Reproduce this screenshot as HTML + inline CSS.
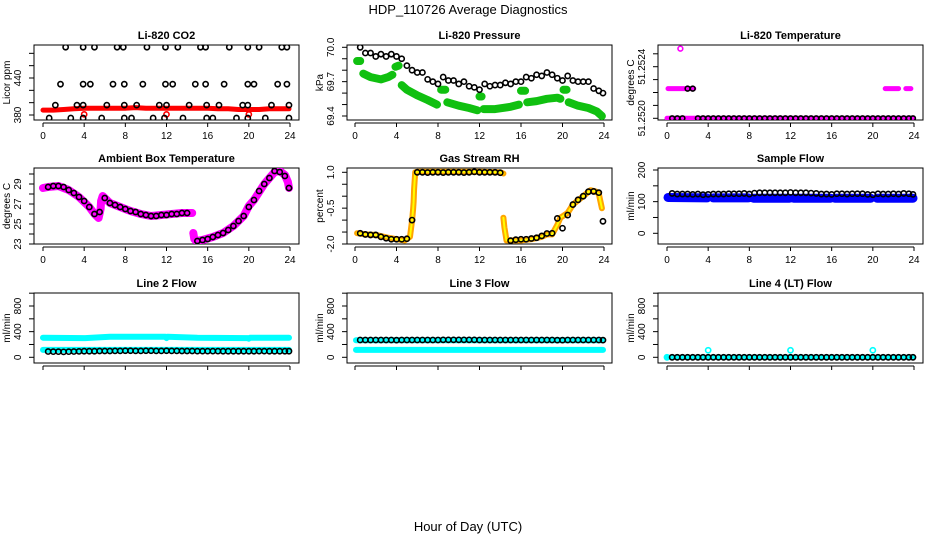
<!DOCTYPE html>
<html><head><meta charset="utf-8"><style>
html,body{margin:0;padding:0;background:#fff;}
svg{display:block;font-family:"Liberation Sans",Arial,sans-serif;}
</style></head><body>
<svg id="chart" width="936" height="540" viewBox="0 0 936 540" xmlns="http://www.w3.org/2000/svg">
<text x="468" y="14" text-anchor="middle" font-size="13">HDP_110726  Average Diagnostics</text>
<text x="468" y="531" text-anchor="middle" font-size="13">Hour of Day (UTC)</text>
</svg>
<script>
// ---- shared data ----
const T = [0.5,1,1.5,2,2.5,3,3.5,4,4.5,5,5.5,6,6.5,7,7.5,8,8.5,9,9.5,10,10.5,11,11.5,12,12.5,13,13.5,14,14.5,15,15.5,16,16.5,17,17.5,18,18.5,19,19.5,20,20.5,21,21.5,22,22.5,23,23.5,23.9];
const xTicks = [0,4,8,12,16,20,24];
// CO2
const co2Times = [2.2,3.9,5.0,7.2,7.8,10.1,11.9,13.1,15.3,15.8,18.1,19.9,21.0,23.2,23.7, 1.7,3.9,4.6,6.8,7.9,9.7,11.9,12.6,14.8,15.8,17.6,19.9,20.5,22.8,23.7, 1.2,3.3,3.9,6.2,7.9,9.1,11.3,12.0,14.2,15.9,17.1,19.4,19.9,22.2,23.9, 0.6,2.7,3.9,5.7,7.9,8.6,10.7,11.8,13.6,15.9,16.5,18.8,19.9,21.6,23.9];
const co2Vals = [490,490,490,490,490,490,490,490,490,490,490,490,490,490,490, 430,430,430,430,430,430,430,430,430,430,430,430,430,430,430, 396,396,396,396,396,396,396,396,396,396,396,396,396,396,396, 375,375,375,375,375,375,375,375,375,375,375,375,375,375,375];
const co2RedT = [0,1,2,3,4,5,6,7,8,9,10,11,12,13,14,15,16,17,18,19,20,21,22,23,23.9];
const co2RedV = [388,388,389,390,391,391,391,391,391,392,391,391,391,391,391,391,391,390,390,389,389,389,390,390,390];
const co2RedPtsT = [4,12,20];
const co2RedPtsV = [381,381,381];
// Pressure
const presBlack = [70.0,69.95,69.95,69.92,69.94,69.92,69.94,69.92,69.90,69.84,69.80,69.78,69.78,69.72,69.70,69.68,69.74,69.71,69.71,69.68,69.70,69.66,69.65,69.63,69.68,69.66,69.67,69.67,69.69,69.68,69.70,69.70,69.74,69.73,69.76,69.75,69.78,69.76,69.73,69.71,69.75,69.71,69.70,69.70,69.70,69.64,69.62,69.60];
const presGreenT = [0.2,0.5,null,0.8,1.5,2.5,3.2,3.6,null,3.9,4.2,null,4.5,5,6,7,7.9,null,8.3,8.7,null,8.9,10,11,11.8,null,12.0,12.2,null,12.4,13.5,15,15.8,null,16.0,16.4,null,16.6,17.5,18.5,19.5,19.8,null,20.1,20.4,null,20.6,21.5,22.5,23.3,23.8];
const presGreenV = [69.88,69.88,null,69.77,69.74,69.72,69.74,69.76,null,69.83,69.84,null,69.67,69.63,69.58,69.54,69.50,null,69.63,69.63,null,69.52,69.49,69.47,69.45,null,69.57,69.57,null,69.46,69.46,69.48,69.50,null,69.62,69.62,null,69.52,69.53,69.55,69.56,69.55,null,69.63,69.63,null,69.52,69.49,69.47,69.44,69.40];
// Temperature
const tempBlack = [51.2520,51.2520,51.2520,51.25223,51.25223,51.2520,51.2520,51.2520,51.2520,51.2520,51.2520,51.2520,51.2520,51.2520,51.2520,51.2520,51.2520,51.2520,51.2520,51.2520,51.2520,51.2520,51.2520,51.2520,51.2520,51.2520,51.2520,51.2520,51.2520,51.2520,51.2520,51.2520,51.2520,51.2520,51.2520,51.2520,51.2520,51.2520,51.2520,51.2520,51.2520,51.2520,51.2520,51.2520,51.2520,51.2520,51.2520,51.2520];
const tempPinkT = [0,23.9,null,0.1,2.6,null,21.2,22.5,null,23.2,23.7];
const tempPinkV = [51.2520,51.2520,null,51.25223,51.25223,null,51.25223,51.25223,null,51.25223,51.25223];
const tempOutT = [1.3];
const tempOutV = [51.25254];
// Ambient
const ambBlack = [28.7,28.8,28.8,28.7,28.4,28.1,27.7,27.3,26.7,26.0,26.2,27.6,27.1,26.9,26.7,26.5,26.3,26.2,26.0,25.9,25.8,25.8,25.9,25.9,26.0,26.0,26.1,26.1,null,23.3,23.4,23.5,23.7,23.9,24.1,24.4,24.8,25.3,25.8,26.7,27.4,28.3,29.0,29.6,30.3,30.2,29.8,28.6];
const ambMagT = [0,0.5,1.5,2.5,3.5,4.5,5.0,5.4,5.6,5.65,5.8,6.5,7.5,8.5,9.5,10.5,11.5,12.5,13.5,14.5,null,14.6,14.7,14.9,15.5,16.5,17.5,18.5,19.5,20.0,20.5,21.5,22.5,23.0,23.5,23.8,23.9];
const ambMagV = [28.6,28.7,28.8,28.4,27.7,26.7,26.0,25.6,26.5,27.3,27.8,27.1,26.7,26.3,26.0,25.8,25.9,26.0,26.1,26.1,null,24.1,23.5,23.3,23.4,23.7,24.1,24.8,25.8,26.8,27.4,29.0,30.2,30.3,29.9,29.2,28.6];
// RH
const rhBlack = [-1.55,-1.6,-1.62,-1.62,-1.7,-1.76,-1.8,-1.8,-1.8,-1.78,-1.0,1.0,1.0,0.99,1.0,1.0,0.99,1.0,1.0,1.0,0.99,1.0,1.02,1.0,1.0,1.0,1.0,0.98,null,-1.86,-1.82,-1.8,-1.8,-1.77,-1.74,-1.66,-1.56,-1.55,-0.93,-1.34,-0.79,-0.35,-0.15,0.0,0.19,0.2,0.15,-1.05];
const rhOrT = [0.2,1,2,3,4,4.8,5.3,5.5,5.6,5.65,5.7,5.8,6,8,10,12,14,14.3,null,14.3,14.4,14.6,16,17,18,18.5,19,19.5,19.8,20.5,21,22,22.7,23.2,23.5,23.8];
const rhOrV = [-1.55,-1.6,-1.62,-1.72,-1.8,-1.85,-1.7,-1.0,-0.55,-0.25,0.3,1.0,1.02,1.02,1.02,1.02,1.0,0.95,null,-0.9,-1.3,-1.85,-1.85,-1.8,-1.7,-1.6,-1.6,-1.2,-0.9,-0.7,-0.35,0.0,0.25,0.2,0.1,-0.5];
// Sample flow
const sampBlack = [126,124,124,124,123,124,122,123,124,124,124,125,125,125,126,124,127,128,128,128,128,128,128,129,128,128,128,127,126,124,124,123,125,125,124,125,125,125,123,122,125,124,124,125,124,126,125,123];
const sampBlueT = [0.1,3.9,null,4.5,7.9,null,8.4,11.9,null,12.3,15.9,null,16.3,19.8,null,20.4,23.9];
const sampBlueV = [113,112,null,112,112,null,111,111,null,111,111,null,111,111,null,111,111];
// Line 2
const l2Black = [90,88,88,85,88,90,92,95,95,95,98,98,98,100,100,102,102,100,100,102,102,100,100,102,100,100,98,98,98,96,96,96,96,96,95,95,95,95,95,95,95,96,96,95,95,95,95,95];
const l2CyanT = [0,4,4.1,6.5,11.9,12,12.1,15,19.9,20,20.1,23.9];
const l2CyanV = [305,300,300,320,320,300,320,305,300,290,305,305];
const l2LowT = [0,23.9];
const l2LowV = [115,115];
// Line 3
const l3Black = [270,270,270,270,270,270,270,268,270,270,270,270,270,270,270,270,272,272,272,272,272,272,272,270,270,270,270,270,270,270,270,270,270,270,270,270,270,270,268,268,270,270,270,270,270,270,270,268];
const l3CyanT = [0.1,23.9];
const l3CyanV = [265,265];
const l3LowT = [0.1,23.9];
const l3LowV = [115,115];
// Line 4
const l4Black = [0,0,0,0,0,0,0,0,0,0,0,0,0,0,0,0,0,0,0,0,0,0,0,0,0,0,0,0,0,0,0,0,0,0,0,0,0,0,0,0,0,0,0,0,0,0,0,0];
const l4CyanT = [0,23.9];
const l4CyanV = [0,0];
const l4SpikeT = [0,4,12,20];
const l4SpikeV = [0,110,110,110];

const NS = "http://www.w3.org/2000/svg";
const svg = document.getElementById('chart');
function mk(tag, attrs, parent){ const e=document.createElementNS(NS,tag); for(const k in attrs) e.setAttribute(k,attrs[k]); (parent||svg).appendChild(e); return e; }

function panel(cfg){
  const g = mk('g',{});
  
  
  const xs = v => cfg.x0 + (v/24)*(cfg.x24-cfg.x0);
  const ys = v => cfg.p0 + (v-cfg.v0)/(cfg.v1-cfg.v0)*(cfg.p1-cfg.p0);
  const t = mk('text',{x:(cfg.bx0+cfg.bx1)/2, y:cfg.by0-6, 'text-anchor':'middle','font-size':11,'font-weight':'bold'}, g);
  t.textContent = cfg.title;
  
  
  const b = mk('rect',{x:cfg.bx0,y:cfg.by0,width:cfg.bx1-cfg.bx0,height:cfg.by1-cfg.by0,fill:'none',stroke:'#000','stroke-width':1}, g);
  
  
  cfg.yTicks.forEach(v=>{
    const y = ys(v);
    const tk = mk('line',{x1:cfg.bx0-5,x2:cfg.bx0,y1:y,y2:y,stroke:'#000'}, g);
    
    
  });
  cfg.yLabels.forEach((lab,i)=>{
    const y = ys(cfg.yLabelVals[i]);
    const lx = cfg.bx0-13;
    const tl = mk('text',{x:lx,y:y,'text-anchor':'middle','font-size':10,transform:`rotate(-90 ${lx} ${y})`}, g);
    tl.textContent = lab;
    
    
  });
  const yt = cfg.bx0-24, ym=(cfg.by0+cfg.by1)/2;
  const ttl = mk('text',{x:yt,y:ym,'text-anchor':'middle','font-size':10,transform:`rotate(-90 ${yt} ${ym})`}, g);
  ttl.textContent = cfg.ylab;
  
  
  const xl = mk('line',{x1:xs(0),x2:xs(24),y1:cfg.by1+3,y2:cfg.by1+3,stroke:'#000'}, g);
  
  
  xTicks.forEach(v=>{
    const tk = mk('line',{x1:xs(v),x2:xs(v),y1:cfg.by1+3,y2:cfg.by1+7,stroke:'#000'}, g);
    
    
    if(cfg.xLabels){
      const tl = mk('text',{x:xs(v),y:cfg.by1+19,'text-anchor':'middle','font-size':10}, g);
      tl.textContent = String(v);
      
      
    }
  });
  const clip = 'clip-'+cfg.name;
  const cp = mk('clipPath',{id:clip}, g);
  mk('rect',{x:cfg.bx0,y:cfg.by0,width:cfg.bx1-cfg.bx0,height:cfg.by1-cfg.by0}, cp);
  const plot = mk('g',{'clip-path':`url(#${clip})`}, g);
  return {xs, ys, plot};
}
function band(P, times, vals, color, w, name){
  let d='', pen=false;
  for(let i=0;i<times.length;i++){
    if(times[i]===null||vals[i]===null){pen=false;continue;}
    d += (pen?'L':'M')+P.xs(times[i]).toFixed(1)+' '+P.ys(vals[i]).toFixed(1)+' ';
    pen=true;
  }
  const p = mk('path',{d:d,fill:'none',stroke:color,'stroke-width':w,'stroke-linecap':'round','stroke-linejoin':'round'}, P.plot);
  
  
}
function pts(P, times, vals, color, r, name){
  for(let i=0;i<times.length;i++){
    if(times[i]===null||vals[i]===null) continue;
    const c = mk('circle',{cx:P.xs(times[i]),cy:P.ys(vals[i]),r:r,fill:'none',stroke:color,'stroke-width':1.6}, P.plot);
    
    
  }
}
const cols = [{bx0:34,bx1:299,x0:43,x24:290},{bx0:347,bx1:612,x0:355,x24:604},{bx0:658,bx1:923,x0:667,x24:914}];
const rows = [{by0:45,by1:120},{by0:168,by1:244},{by0:293,by1:363}];
function cfgOf(c,r,o){ return Object.assign({},cols[c],rows[r],o); }

let P = panel(cfgOf(0,0,{name:'panel-co2',title:'Li-820 CO2',ylab:'Licor ppm',v0:380,p0:115,v1:440,p1:78,yTicks:[380,400,420,440,460,480],yLabels:['380','440'],yLabelVals:[380,440],xLabels:true}));
band(P, co2RedT, co2RedV, '#ff0000', 5, 'co2-red-series');
pts(P, co2RedPtsT, co2RedPtsV, '#ff0000', 2.6, 'co2-red-point');
pts(P, co2Times, co2Vals, '#000', 2.6, 'co2-black-point');

P = panel(cfgOf(1,0,{name:'panel-pressure',title:'Li-820 Pressure',ylab:'kPa',v0:69.4,p0:116,v1:70.0,p1:47.3,yTicks:[69.4,69.5,69.6,69.7,69.8,69.9,70.0],yLabels:['69.4','69.7','70.0'],yLabelVals:[69.4,69.7,70.0],xLabels:true}));
band(P, presGreenT, presGreenV, '#10c010', 8, 'pressure-green-series');
pts(P, T, presBlack, '#000', 2.6, 'pressure-black-point');

P = panel(cfgOf(2,0,{name:'panel-temperature',title:'Li-820 Temperature',ylab:'degrees C',v0:51.2520,p0:118.3,v1:51.2524,p1:66.7,yTicks:[51.2520,51.2521,51.2522,51.2523,51.2524,51.2525],yLabels:['51.2520','51.2524'],yLabelVals:[51.2520,51.2524],xLabels:true}));
band(P, tempPinkT, tempPinkV, '#ff00ff', 5, 'temp-magenta-series');
pts(P, tempOutT, tempOutV, '#ff00ff', 2.4, 'temp-magenta-point');
pts(P, T, tempBlack, '#000', 2.4, 'temp-black-point');

P = panel(cfgOf(0,1,{name:'panel-ambient',title:'Ambient Box Temperature',ylab:'degrees C',v0:23,p0:244,v1:29,p1:184,yTicks:[23,24,25,26,27,28,29,30],yLabels:['23','25','27','29'],yLabelVals:[23,25,27,29],xLabels:true}));
band(P, ambMagT, ambMagV, '#ff00ff', 8, 'ambient-magenta-series');
pts(P, T, ambBlack, '#000', 2.6, 'ambient-black-point');

P = panel(cfgOf(1,1,{name:'panel-rh',title:'Gas Stream RH',ylab:'percent',v0:-2,p0:244,v1:1,p1:172.3,yTicks:[-2,-1.5,-1,-0.5,0,0.5,1],yLabels:['-2.0','-0.5','1.0'],yLabelVals:[-2,-0.5,1],xLabels:true}));
band(P, rhOrT, rhOrV, '#ffa500', 6, 'rh-orange-series');
band(P, rhOrT, rhOrV, '#ffff00', 2, 'rh-yellow-series');
pts(P, T, rhBlack, '#000', 2.6, 'rh-black-point');

P = panel(cfgOf(2,1,{name:'panel-sample-flow',title:'Sample Flow',ylab:'ml/min',v0:0,p0:233.3,v1:200,p1:170,yTicks:[0,50,100,150,200],yLabels:['0','100','200'],yLabelVals:[0,100,200],xLabels:true}));
band(P, sampBlueT, sampBlueV, '#0000ff', 9, 'sample-blue-series');
pts(P, T, sampBlack, '#000', 2.6, 'sample-black-point');

const flowCfg = {v0:0,p0:357.3,v1:800,p1:306,yTicks:[0,200,400,600,800,1000],yLabels:['0','400','800'],yLabelVals:[0,400,800],ylab:'ml/min',xLabels:false};
P = panel(cfgOf(0,2,Object.assign({name:'panel-line2',title:'Line 2 Flow'},flowCfg)));
band(P, l2CyanT, l2CyanV, '#00ffff', 6, 'line2-cyan-series');
band(P, l2LowT, l2LowV, '#00ffff', 6, 'line2-cyan-low-series');
pts(P, T, l2Black, '#000', 2.6, 'line2-black-point');

P = panel(cfgOf(1,2,Object.assign({name:'panel-line3',title:'Line 3 Flow'},flowCfg)));
band(P, l3CyanT, l3CyanV, '#00ffff', 6, 'line3-cyan-series');
band(P, l3LowT, l3LowV, '#00ffff', 6, 'line3-cyan-low-series');
pts(P, T, l3Black, '#000', 2.6, 'line3-black-point');

P = panel(cfgOf(2,2,Object.assign({name:'panel-line4',title:'Line 4 (LT) Flow'},flowCfg)));
band(P, l4CyanT, l4CyanV, '#00ffff', 5, 'line4-cyan-series');
pts(P, l4SpikeT, l4SpikeV, '#00ffff', 2.6, 'line4-cyan-point');
pts(P, T, l4Black, '#000', 2.6, 'line4-black-point');
</script>
</body></html>
